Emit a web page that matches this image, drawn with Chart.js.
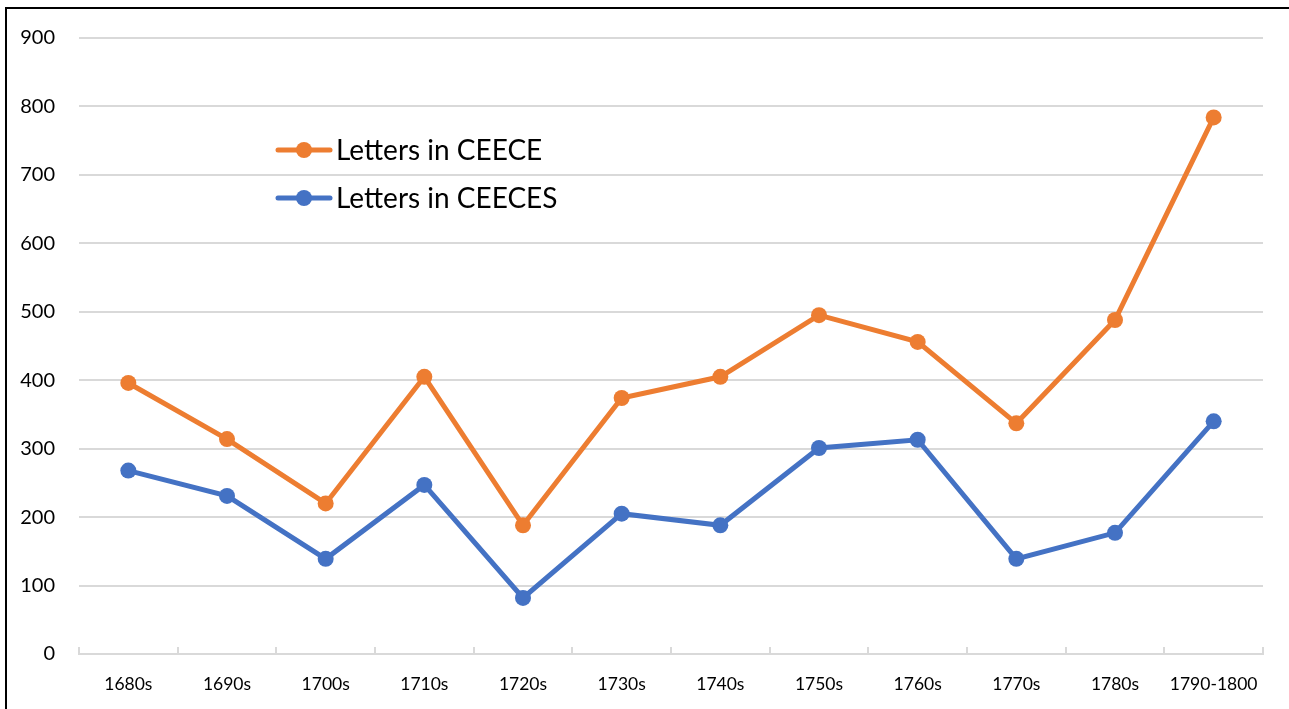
<!DOCTYPE html>
<html>
<head>
<meta charset="utf-8">
<script src="https://cdn.jsdelivr.net/npm/chart.js@4.4.0/dist/chart.umd.min.js"></script>
<style>
  html, body { margin: 0; padding: 0; background: #fff; overflow: hidden; }
  #wrap { position: relative; width: 1289px; height: 709px; }
</style>
</head>
<body>
<div id="wrap"><canvas id="chart" width="1289" height="709"></canvas></div>
<script>
const decades = ['1680s', '1690s', '1700s', '1710s', '1720s', '1730s', '1740s', '1750s', '1760s', '1770s', '1780s', '1790-1800'];
const ceece = [396, 314, 220, 405, 188, 374, 405, 495, 456, 337, 488, 784];
const ceeces = [268, 231, 139, 247, 82, 205, 188, 301, 313, 139, 177, 340];

const ORANGE = '#ED7D31';
const BLUE = '#4472C4';
const FONT = 'Lato, "Open Sans", "Liberation Sans", sans-serif';

// legend sits inside the plot, like the spreadsheet one
const insideLegend = {
  id: 'insideLegend',
  afterDatasetsDraw(chart) {
    const ctx = chart.ctx;
    const spots = [[276, 150], [276, 198]];
    ctx.save();
    chart.data.datasets.forEach((ds, i) => {
      const [x, y] = spots[i];
      ctx.strokeStyle = ds.borderColor;
      ctx.lineWidth = 5;
      ctx.lineCap = 'round';
      ctx.beginPath();
      ctx.moveTo(x + 2, y);
      ctx.lineTo(x + 54, y);
      ctx.stroke();
      ctx.fillStyle = ds.borderColor;
      ctx.beginPath();
      ctx.arc(x + 28, y, 8, 0, Math.PI * 2);
      ctx.fill();
      ctx.fillStyle = '#000';
      ctx.font = '28px ' + FONT;
      ctx.textBaseline = 'middle';
      ctx.fillText(ds.label, x + 60, y + 1);
    });
    ctx.restore();
  }
};

// upward tick marks on the category axis + outer frame
const frame = {
  id: 'frame',
  afterDraw(chart) {
    const ctx = chart.ctx;
    const area = chart.chartArea;
    ctx.save();
    ctx.strokeStyle = '#d9d9d9';
    ctx.lineWidth = 2;
    const step = (area.right - area.left) / decades.length;
    for (let i = 0; i <= decades.length; i++) {
      const px = Math.round(area.left + i * step);
      ctx.beginPath();
      ctx.moveTo(px, area.bottom);
      ctx.lineTo(px, area.bottom - 7);
      ctx.stroke();
    }
    ctx.strokeStyle = '#000';
    ctx.lineWidth = 2;
    ctx.strokeRect(6, 8, 1400, 800);
    ctx.restore();
  }
};

new Chart(document.getElementById('chart').getContext('2d'), {
  type: 'line',
  data: {
    labels: decades,
    datasets: [
      { label: 'Letters in CEECE', data: ceece, borderColor: ORANGE, backgroundColor: ORANGE,
        borderWidth: 5, pointRadius: 8, pointBorderWidth: 0, pointBackgroundColor: ORANGE, tension: 0 },
      { label: 'Letters in CEECES', data: ceeces, borderColor: BLUE, backgroundColor: BLUE,
        borderWidth: 5, pointRadius: 8, pointBorderWidth: 0, pointBackgroundColor: BLUE, tension: 0 }
    ]
  },
  options: {
    responsive: false,
    animation: false,
    layout: { padding: { top: 38, right: 26, left: 0, bottom: 0 } },
    plugins: { legend: { display: false }, tooltip: { enabled: false } },
    scales: {
      x: {
        offset: true,
        grid: { display: false },
        border: { display: true, color: '#d9d9d9', width: 2 },
        ticks: { color: '#000', font: { family: FONT, size: 17.5 }, padding: 12, maxRotation: 0, autoSkip: false },
        afterFit(scale) { scale.height = 55; }
      },
      y: {
        min: 0, max: 900,
        grid: { color: '#d9d9d9', lineWidth: 2, drawTicks: false },
        border: { display: false },
        ticks: { stepSize: 100, color: '#000', font: { family: FONT, size: 20 }, padding: 24 },
        afterFit(scale) { scale.width = 79; }
      }
    }
  },
  plugins: [insideLegend, frame]
});
</script>
</body>
</html>
